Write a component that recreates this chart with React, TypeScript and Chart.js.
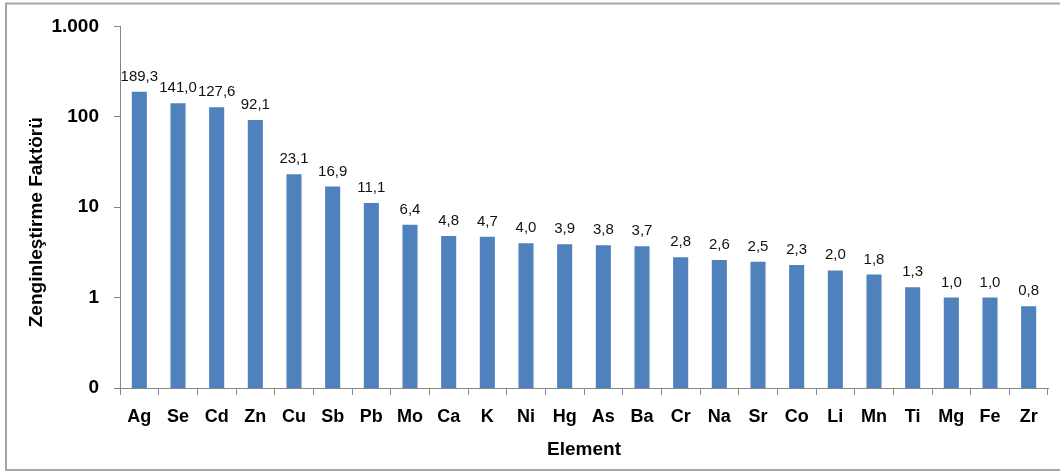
import React, { useEffect, useRef } from "react";
import { Chart, registerables } from "chart.js";

Chart.register(...registerables);

const elements = ["Ag", "Se", "Cd", "Zn", "Cu", "Sb", "Pb", "Mo", "Ca", "K", "Ni", "Hg", "As", "Ba", "Cr", "Na", "Sr", "Co", "Li", "Mn", "Ti", "Mg", "Fe", "Zr"];
const enrichment = [189.3, 141.0, 127.6, 92.1, 23.1, 16.9, 11.1, 6.4, 4.8, 4.7, 4.0, 3.9, 3.8, 3.7, 2.8, 2.6, 2.5, 2.3, 2.0, 1.8, 1.3, 1.0, 1.0, 0.8];
const yTickValues = [0.1, 1, 10, 100, 1000];
const yTickLabels = ["0", "1", "10", "100", "1.000"];
const yTitle = "Zenginleştirme Faktörü";
const xTitle = "Element";

const FONT = "'Liberation Sans', Arial, sans-serif";

const framePlugin = {
  id: "frame",
  beforeDraw(chart: any) {
    const ctx = chart.ctx;
    ctx.save();
    ctx.fillStyle = "#ffffff";
    ctx.fillRect(0, 0, chart.width, chart.height);
    ctx.strokeStyle = "#a6a6a6";
    ctx.lineWidth = 2;
    ctx.strokeRect(6, 3.5, 1100, 466.5);
    ctx.restore();
  },
};

const yTitlePlugin = {
  id: "yTitle",
  afterDraw(chart: any) {
    const ctx = chart.ctx;
    const area = chart.chartArea;
    ctx.save();
    ctx.font = `bold 19px ${FONT}`;
    ctx.fillStyle = "#000";
    ctx.textAlign = "center";
    ctx.textBaseline = "middle";
    ctx.translate(37, (area.top + area.bottom) / 2 + 15);
    ctx.rotate(-Math.PI / 2);
    ctx.fillText(yTitle, 0, 0);
    ctx.restore();
  },
};

const valueLabelPlugin = {
  id: "valueLabels",
  afterDatasetsDraw(chart: any) {
    const ctx = chart.ctx;
    const meta = chart.getDatasetMeta(0);
    const data = chart.data.datasets[0].data as number[];
    ctx.save();
    ctx.font = `15px ${FONT}`;
    ctx.fillStyle = "#111111";
    ctx.textAlign = "center";
    ctx.textBaseline = "alphabetic";
    meta.data.forEach((bar: any, i: number) => {
      const txt = data[i].toFixed(1).replace(".", ",");
      ctx.fillText(txt, bar.x, bar.y - 11);
    });
    ctx.restore();
  },
};

export default function App() {
  const ref = useRef<HTMLCanvasElement | null>(null);

  useEffect(() => {
    if (!ref.current) return;
    const chart = new Chart(ref.current, {
      type: "bar",
      data: {
        labels: elements,
        datasets: [
          {
            data: enrichment,
            backgroundColor: "#4F81BD",
            categoryPercentage: 1,
            barPercentage: 0.39,
          },
        ],
      },
      options: {
        responsive: false,
        animation: false,
        layout: { padding: { top: 25, right: 12, bottom: 0, left: 0 } },
        plugins: {
          legend: { display: false },
          tooltip: { enabled: false },
        },
        scales: {
          x: {
            grid: {
              display: true,
              drawOnChartArea: false,
              drawTicks: true,
              tickLength: 7,
              color: "#868686",
              offset: true,
            },
            border: { display: true, color: "#868686" },
            ticks: {
              color: "#000",
              font: { family: FONT, size: 18, weight: "bold" },
              padding: 11,
              maxRotation: 0,
              autoSkip: false,
            },
            title: {
              display: true,
              text: xTitle,
              color: "#000",
              font: { family: FONT, size: 19, weight: "bold" },
              padding: { top: 0, bottom: 11 },
            },
            afterFit(scale: any) {
              scale.height = 84;
            },
          },
          y: {
            type: "logarithmic",
            min: 0.1,
            max: 1000,
            afterBuildTicks(scale: any) {
              scale.ticks = yTickValues.map((v) => ({ value: v }));
            },
            grid: {
              display: true,
              drawOnChartArea: false,
              drawTicks: true,
              tickLength: 6,
              color: "#868686",
            },
            border: { display: true, color: "#868686" },
            ticks: {
              color: "#000",
              font: { family: FONT, size: 19, weight: "bold" },
              padding: 15,
              callback: (_v: any, i: number) => yTickLabels[i],
            },
            title: { display: false },
            afterFit(scale: any) {
              scale.width = 120;
            },
          },
        },
      },
      plugins: [framePlugin, valueLabelPlugin, yTitlePlugin],
    } as any);
    return () => chart.destroy();
  }, []);

  return (
    <div style={{ position: "absolute", left: 0, top: 0, width: 1060, height: 472 }}>
      <canvas ref={ref} width={1060} height={472} style={{ display: "block" }} />
    </div>
  );
}
